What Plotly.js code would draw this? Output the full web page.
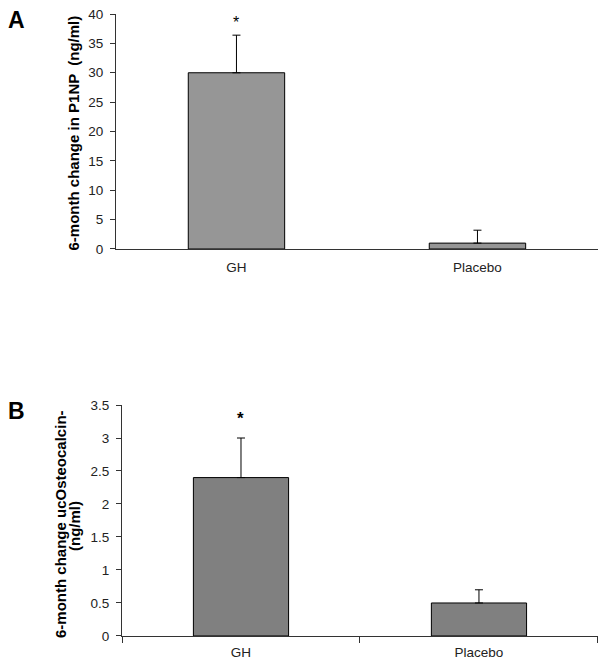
<!DOCTYPE html>
<html><head><meta charset="utf-8">
<script src="https://cdn.plot.ly/plotly-3.0.1.min.js"></script>
<style>html,body{margin:0;padding:0;background:#fff}#chart{width:604px;height:667px}</style>
</head><body><div id="chart"></div>
<script>
const groups = ["GH", "Placebo"];
const p1npChange = [30, 1.0];
const p1npErr = [6.4, 2.2];
const ocChange = [2.4, 0.5];
const ocErr = [0.6, 0.2];
const yTicksA = [0, 5, 10, 15, 20, 25, 30, 35, 40];
const yTicksB = [0, 0.5, 1, 1.5, 2, 2.5, 3, 3.5];

const font = "Liberation Sans, Arial, sans-serif";
const traces = [
  {type: "bar", x: groups, y: p1npChange, xaxis: "x", yaxis: "y", width: 0.4,
   marker: {color: "#969696", line: {color: "#000", width: 1}},
   error_y: {type: "data", array: p1npErr, arrayminus: [0, 0], symmetric: false, color: "#000", thickness: 1, width: 4}},
  {type: "bar", x: groups, y: ocChange, xaxis: "x2", yaxis: "y2", width: 0.4,
   marker: {color: "#808080", line: {color: "#000", width: 1}},
   error_y: {type: "data", array: ocErr, arrayminus: [0, 0], symmetric: false, color: "#000", thickness: 1, width: 4}}
];
const axisCommon = {showgrid: false, zeroline: false, showline: true, linecolor: "#333", linewidth: 1,
  tickfont: {family: font, size: 13.5, color: "#222"}, fixedrange: true};
const titleFont = {family: font, size: 15, color: "#000"};
const layout = {
  width: 604, height: 667, margin: {l: 0, r: 0, t: 0, b: 0},
  paper_bgcolor: "#fff", plot_bgcolor: "#fff", showlegend: false,
  font: {family: font},
  xaxis: Object.assign({}, axisCommon, {domain: [0.192, 0.990], anchor: "y", ticks: "", range: [-0.5, 1.5], ticklabelstandoff: 6}),
  yaxis: Object.assign({}, axisCommon, {domain: [0.6267, 0.979], anchor: "x", range: [0, 40], tickvals: yTicksA,
    ticks: "outside", ticklen: 5, tickcolor: "#333", ticklabelstandoff: 4}),
  xaxis2: Object.assign({}, axisCommon, {domain: [0.202, 0.990], anchor: "y2", ticks: "outside", ticklen: 6, tickcolor: "#333", tickson: "boundaries", range: [-0.5, 1.5], ticklabelstandoff: 4}),
  yaxis2: Object.assign({}, axisCommon, {domain: [0.0465, 0.3928], anchor: "x2", range: [0, 3.5], tickvals: yTicksB,
    ticks: "outside", ticklen: 5, tickcolor: "#333", ticklabelstandoff: 4}),
  annotations: [
    {text: "<b>A</b>", xref: "paper", yref: "paper", x: 0.010, y: 0.993, xanchor: "left", yanchor: "top", showarrow: false, font: {family: font, size: 23, color: "#000"}},
    {text: "<b>B</b>", xref: "paper", yref: "paper", x: 0.010, y: 0.407, xanchor: "left", yanchor: "top", showarrow: false, font: {family: font, size: 23, color: "#000"}},
    {text: "<b>6-month change in P1NP  (ng/ml)</b>", xref: "paper", yref: "paper", x: 0.1233, y: 0.8006, xanchor: "center", yanchor: "middle", textangle: -90, showarrow: false, font: titleFont},
    {text: "<b>6-month change ucOsteocalcin-</b>", xref: "paper", yref: "paper", x: 0.101, y: 0.2144, xanchor: "center", yanchor: "middle", textangle: -90, showarrow: false, font: titleFont},
    {text: "<b>(ng/ml)</b>", xref: "paper", yref: "paper", x: 0.1242, y: 0.2114, xanchor: "center", yanchor: "middle", textangle: -90, showarrow: false, font: titleFont},
    {text: "*", xref: "x", yref: "y", x: groups[0], y: 38.5, showarrow: false, font: {family: font, size: 16, color: "#000"}},
    {text: "<b>*</b>", xref: "x2", yref: "y2", x: groups[0], y: 3.3, showarrow: false, font: {family: font, size: 17, color: "#000"}}
  ]
};
Plotly.newPlot("chart", traces, layout, {displayModeBar: false, staticPlot: true});
</script></body></html>
